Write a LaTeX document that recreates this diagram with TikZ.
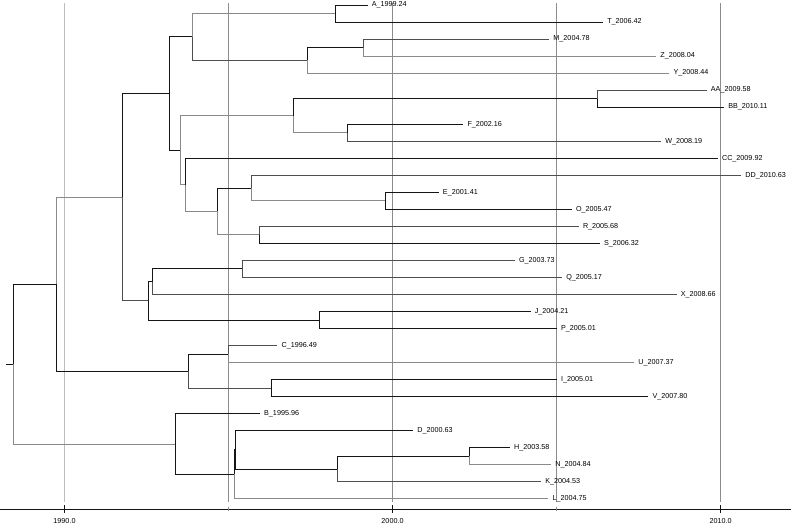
\documentclass[tikz,border=0pt]{standalone}
\usepackage{fontspec}
\setmainfont{Liberation Sans}
\usetikzlibrary{positioning}
\definecolor{inkblack}{HTML}{151515}
\definecolor{darkgrey}{HTML}{4F4F4F}
\definecolor{midgrey}{HTML}{8A8A8A}
\definecolor{gridgrey}{HTML}{8C8C8C}
\definecolor{palegrey}{HTML}{BDBDBD}
\tikzset{
  bk/.style={draw=inkblack, line width=0.95pt},
  dg/.style={draw=darkgrey, line width=0.85pt},
  lg/.style={draw=midgrey, line width=0.85pt},
  tip/.style={anchor=west, inner xsep=4pt, inner ysep=0pt,
              font=\fontsize{7.2}{8}\selectfont},
  gridln/.style={draw=gridgrey, line width=0.8pt},
  axisln/.style={draw=inkblack, line width=0.8pt},
  yrlbl/.style={font=\fontsize{7.2}{8}\selectfont, inner sep=0pt},
}

\begin{document}
\begin{tikzpicture}[x=32.8pt, y=-17.03pt]
  \useasboundingbox (-64.5pt,5pt) rectangle (726.5pt,-524pt);

  % time grid and axis
  \draw[gridln, draw=palegrey] (0,-0.12) -- (0,29.18);
  \foreach \t in {5,10,15,20}
    \draw[gridln] (\t,-0.12) -- (\t,29.18);
  \draw[axisln] (-1.966,29.59) -- (22.149,29.59);
  \foreach \t in {0,10,20}
    \draw[axisln] (\t,29.35) -- (\t,29.83);
  \foreach \t in {5,15}
    \draw[axisln, draw=midgrey] (\t,29.45) -- (\t,29.72);
  \foreach \t/\l in {0/1990.0,10/2000.0,20/2010.0}
    \node[yrlbl] (ax\t) at (\t,30.3) {\l};

  % tips
  \node[tip] (A)  at (9.24,0)  {A\_1999.24};
  \node[tip] (T)  at (16.42,1) {T\_2006.42};
  \node[tip] (M)  at (14.78,2) {M\_2004.78};
  \node[tip] (Z)  at (18.04,3) {Z\_2008.04};
  \node[tip] (Y)  at (18.44,4) {Y\_2008.44};
  \node[tip] (AA) at (19.58,5) {AA\_2009.58};
  \node[tip] (BB) at (20.11,6) {BB\_2010.11};
  \node[tip] (F)  at (12.16,7) {F\_2002.16};
  \node[tip] (W)  at (18.19,8) {W\_2008.19};
  \node[tip] (CC) at (19.92,9) {CC\_2009.92};
  \node[tip] (DD) at (20.63,10) {DD\_2010.63};
  \node[tip] (E)  at (11.41,11) {E\_2001.41};
  \node[tip] (O)  at (15.47,12) {O\_2005.47};
  \node[tip] (R)  at (15.68,13) {R\_2005.68};
  \node[tip] (S)  at (16.32,14) {S\_2006.32};
  \node[tip] (G)  at (13.73,15) {G\_2003.73};
  \node[tip] (Q)  at (15.17,16) {Q\_2005.17};
  \node[tip] (X)  at (18.66,17) {X\_2008.66};
  \node[tip] (J)  at (14.21,18) {J\_2004.21};
  \node[tip] (P)  at (15.01,19) {P\_2005.01};
  \node[tip] (C)  at (6.49,20)  {C\_1996.49};
  \node[tip] (U)  at (17.37,21) {U\_2007.37};
  \node[tip] (I)  at (15.01,22) {I\_2005.01};
  \node[tip] (V)  at (17.80,23) {V\_2007.80};
  \node[tip] (B)  at (5.96,24)  {B\_1995.96};
  \node[tip] (D)  at (10.63,25) {D\_2000.63};
  \node[tip] (H)  at (13.58,26) {H\_2003.58};
  \node[tip] (N)  at (14.84,27) {N\_2004.84};
  \node[tip] (K)  at (14.53,28) {K\_2004.53};
  \node[tip] (L)  at (14.75,29) {L\_2004.75};

  % internal nodes
  \coordinate (nAT)  at (8.247,0.5);
  \coordinate (nMZ)  at (9.101,2.5);
  \coordinate (nMZY) at (7.393,3.25);
  \coordinate (nAM)  at (3.887,1.875);
  \coordinate (nAB)  at (16.235,5.5);
  \coordinate (nFW)  at (8.613,7.5);
  \coordinate (nAF)  at (6.966,6.5);
  \coordinate (nEO)  at (9.771,11.5);
  \coordinate (nDE)  at (5.686,10.75);
  \coordinate (nRS)  at (5.930,13.5);
  \coordinate (nDR)  at (4.649,12.125);
  \coordinate (nCD)  at (3.674,10.5625);
  \coordinate (nAC)  at (3.543,8.531);
  \coordinate (nTop) at (3.186,5.203);
  \coordinate (nGQ)  at (5.412,15.5);
  \coordinate (nGX)  at (2.668,16.25);
  \coordinate (nJP)  at (7.759,18.5);
  \coordinate (nGJ)  at (2.546,17.375);
  \coordinate (nUp)  at (1.753,11.289);
  \coordinate (nCU)  at (4.985,20.5);
  \coordinate (nIV)  at (6.296,22.5);
  \coordinate (nCI)  at (3.765,21.5);
  \coordinate (nMid) at (-0.259,16.395);
  \coordinate (nHN)  at (12.332,26.5);
  \coordinate (nHK)  at (8.308,27.25);
  \coordinate (nDH)  at (5.220,26.125);
  \coordinate (nDL)  at (5.168,27.5625);
  \coordinate (nBD)  at (3.369,25.781);
  \coordinate (root) at (-1.570,21.088);
  \coordinate (rstub) at (-1.784,21.088);

  % branches
  \draw[bk] (rstub) -- (root);
  \foreach \p/\c in {root/nMid, nMid/nCI, nUp/nTop, nTop/nAM, nTop/nAC,
                     nAT/A, nAT/T, nMZY/nMZ, nAF/nAB, nAB/BB, nFW/F,
                     nCD/CC, nDR/nDE, nEO/E, nEO/O, nRS/S, nGJ/nGX,
                     nGJ/nJP, nGX/nGQ, nJP/J, nJP/P, nCI/nCU, nIV/I, nIV/V,
                     nBD/B, nBD/nDL, nDL/nDH, nDH/D, nDH/nHK, nHK/nHN, nHN/H}
    \draw[bk] (\p) |- (\c);
  \foreach \p/\c in {nUp/nGJ, nAM/nMZY, nMZ/M, nAB/AA, nFW/W, nDE/DD,
                     nRS/R, nGX/X, nGQ/G, nGQ/Q, nCI/nIV, nCU/C, nHK/K}
    \draw[dg] (\p) |- (\c);
  \foreach \p/\c in {root/nBD, nMid/nUp, nAM/nAT, nMZY/Y, nMZ/Z, nAC/nAF,
                     nAC/nCD, nAF/nFW, nCD/nDR, nDR/nRS, nDE/nEO, nCU/U,
                     nDL/L, nHN/N}
    \draw[lg] (\p) |- (\c);
\end{tikzpicture}
\end{document}
